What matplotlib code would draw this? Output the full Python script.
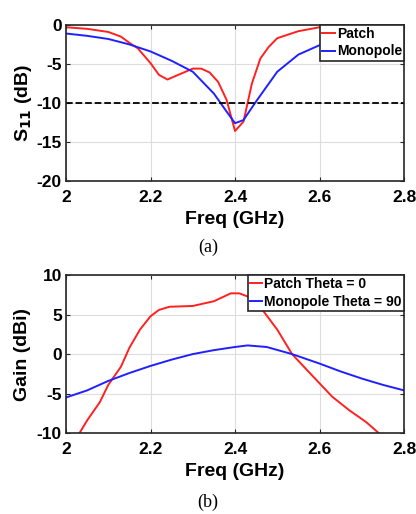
import matplotlib
matplotlib.use("Agg")
import matplotlib.pyplot as plt
import numpy as np

plt.rcParams['font.family'] = ['Liberation Sans', 'DejaVu Sans']
plt.rcParams['axes.unicode_minus'] = False

# (a) S11 data
freq_patch_s11 = [2.0, 2.05, 2.1, 2.13, 2.15, 2.17, 2.2, 2.22, 2.24, 2.27, 2.3, 2.32, 2.34,
                  2.36, 2.38, 2.40, 2.42, 2.44, 2.46, 2.48, 2.5, 2.55, 2.6, 2.7, 2.8]
s11_patch = [-0.3, -0.5, -0.9, -1.5, -2.3, -3.0, -4.9, -6.4, -7.0, -6.3, -5.6, -5.6, -6.1,
             -7.3, -9.6, -13.6, -12.4, -7.5, -4.3, -2.8, -1.7, -0.8, -0.3, -0.1, -0.05]
freq_mono_s11 = [2.0, 2.05, 2.1, 2.15, 2.2, 2.25, 2.3, 2.35, 2.38, 2.4, 2.42, 2.45, 2.5,
                 2.55, 2.6, 2.7, 2.8]
s11_mono = [-1.1, -1.4, -1.8, -2.5, -3.4, -4.6, -6.0, -8.8, -11.1, -12.6, -12.2, -9.8, -6.0,
            -3.8, -2.6, -1.5, -0.8]

# (b) gain data
freq_patch_gain = [2.032, 2.05, 2.08, 2.1, 2.13, 2.15, 2.175, 2.2, 2.22, 2.245, 2.3, 2.35,
                   2.39, 2.41, 2.43, 2.465, 2.5, 2.535, 2.57, 2.6, 2.63, 2.67, 2.71, 2.74]
gain_patch = [-10.0, -8.4, -6.1, -3.9, -1.6, 0.8, 3.1, 4.8, 5.6, 6.0, 6.1, 6.7,
              7.7, 7.7, 7.3, 5.6, 3.1, 0.0, -2.0, -3.7, -5.4, -7.1, -8.6, -10.0]
freq_mono_gain = [2.0, 2.05, 2.1, 2.15, 2.2, 2.25, 2.3, 2.35, 2.4, 2.43, 2.475, 2.535,
                  2.6, 2.65, 2.7, 2.75, 2.8]
gain_mono = [-5.5, -4.6, -3.4, -2.4, -1.5, -0.7, 0.0, 0.5, 0.9, 1.1, 0.9, 0.0,
             -1.2, -2.2, -3.1, -3.9, -4.6]

fig = plt.figure(figsize=(4.16, 5.14), dpi=100)
ax1 = fig.add_axes([0.1587, 0.648, 0.8125, 0.3035])
ax2 = fig.add_axes([0.1587, 0.1576, 0.8125, 0.307])


def style(ax):
    ax.grid(True, color='#dddddd', linewidth=0.8)
    ax.set_axisbelow(True)
    for sp in ax.spines.values():
        sp.set_color('#262626')
        sp.set_linewidth(1.2)
    ax.tick_params(direction='in', length=3, labelsize=12.5, top=True, right=True,
                   color='#262626')
    ax.tick_params(axis='x', pad=6.5)
    ax.tick_params(axis='y', pad=3)
    ax.set_xlim(2, 2.8)
    ax.set_xticks([2, 2.2, 2.4, 2.6, 2.8])
    ax.set_xticklabels(['2', '2.2', '2.4', '2.6', '2.8'])
    for lbl in ax.get_xticklabels() + ax.get_yticklabels():
        lbl.set_fontweight('bold')
    ax.set_xlabel('Freq (GHz)', fontsize=14, fontweight='bold', labelpad=4)


def legend(ax):
    leg = ax.legend(loc='upper right', prop={'weight': 'bold', 'size': 10},
                    frameon=True, fancybox=False, borderpad=0.15, handlelength=0.9,
                    handletextpad=0.15, labelspacing=0.25, borderaxespad=0.0)
    leg.get_frame().set_edgecolor('#262626')
    leg.get_frame().set_linewidth(1.2)
    leg.get_frame().set_alpha(1)


# Plot (a)
ax1.plot(freq_patch_s11, s11_patch, color='#ff2020', linewidth=1.4, label='Patch')
ax1.plot(freq_mono_s11, s11_mono, color='#2020ff', linewidth=1.4, label='Monopole')
ax1.axhline(-10, color='black', linestyle='--', linewidth=1.3)
ax1.set_ylim(-20, 0)
ax1.set_yticks([-20, -15, -10, -5, 0])
style(ax1)
ax1.set_ylabel('S$_{\\mathbf{11}}$ (dB)', fontsize=14, fontweight='bold', labelpad=2)
legend(ax1)

# Plot (b)
ax2.plot(freq_patch_gain, gain_patch, color='#ff2020', linewidth=1.4, label='Patch Theta = 0')
ax2.plot(freq_mono_gain, gain_mono, color='#2020ff', linewidth=1.4, label='Monopole Theta = 90')
ax2.set_ylim(-10, 10)
ax2.set_yticks([-10, -5, 0, 5, 10])
style(ax2)
ax2.set_ylabel('Gain (dBi)', fontsize=14, fontweight='bold', labelpad=4)
legend(ax2)

fig.text(0.5, 1 - 247 / 514, '(a)', ha='center', va='center', fontsize=13,
         family=['Liberation Serif', 'DejaVu Serif'])
fig.text(0.5, 1 - 502 / 514, '(b)', ha='center', va='center', fontsize=13,
         family=['Liberation Serif', 'DejaVu Serif'])

fig.savefig('out.png', dpi=100)
